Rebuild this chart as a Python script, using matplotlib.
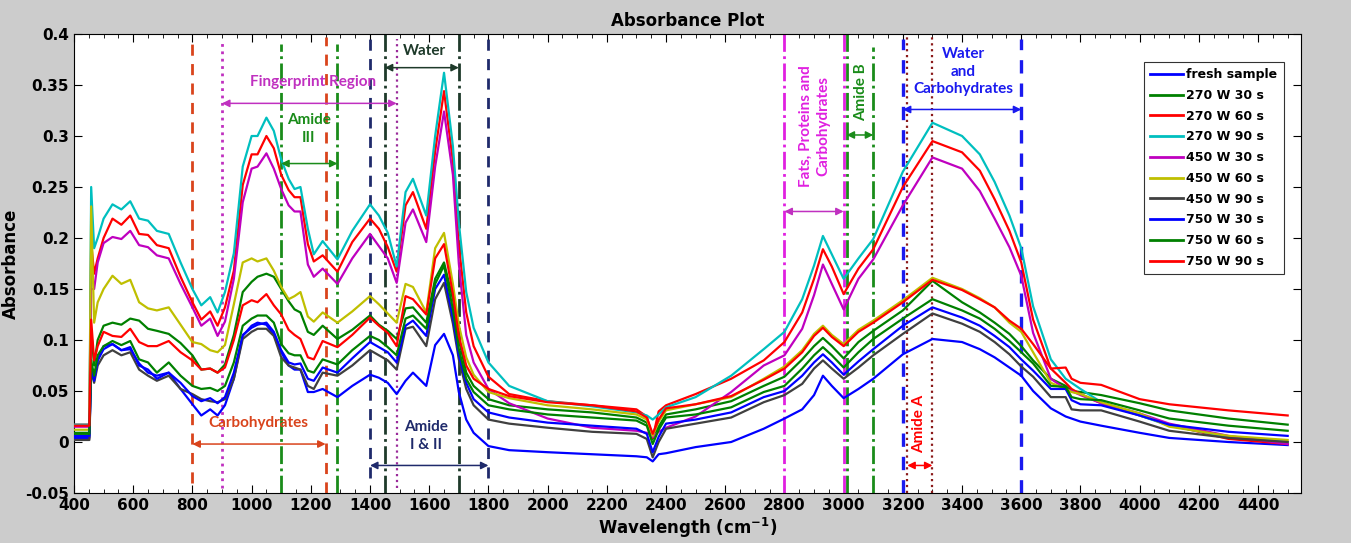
import numpy as np
import matplotlib
matplotlib.use('Agg')
import matplotlib.pyplot as plt
from matplotlib.ticker import MultipleLocator

# wavenumber grid (cm-1)
wn = [400, 452, 458, 468, 480,
      500, 530, 560, 590, 620,
      650, 680, 720, 760, 800,
      830, 860, 885, 910, 940,
      970, 1000, 1020, 1050, 1075,
      1100, 1125, 1145, 1165, 1190,
      1210, 1240, 1290, 1340, 1400,
      1430, 1460, 1490, 1520, 1545,
      1590, 1620, 1650, 1680, 1700,
      1725, 1750, 1800, 1870, 2000,
      2150, 2300, 2335, 2355, 2375,
      2400, 2500, 2620, 2730, 2800,
      2860, 2900, 2930, 2960, 3000,
      3050, 3100, 3200, 3300, 3400,
      3460, 3510, 3560, 3600, 3640,
      3700, 3750, 3770, 3800, 3870,
      4000, 4100, 4300, 4500]

fresh = [0.004, 0.004, 0.075, 0.062, 0.080,
         0.094, 0.096, 0.090, 0.091, 0.077,
         0.068, 0.065, 0.068, 0.052, 0.037,
         0.026, 0.032, 0.026, 0.036, 0.062,
         0.104, 0.114, 0.117, 0.115, 0.105,
         0.088, 0.075, 0.071, 0.071, 0.049,
         0.049, 0.052, 0.044, 0.055, 0.066,
         0.063, 0.058, 0.047, 0.060, 0.068,
         0.055, 0.095, 0.106, 0.085, 0.049,
         0.022, 0.009, -0.004, -0.008, -0.010,
         -0.012, -0.014, -0.015, -0.019, -0.012,
         -0.011, -0.005, 0.000, 0.013, 0.023,
         0.032, 0.046, 0.065, 0.055, 0.043,
         0.052, 0.062, 0.086, 0.101, 0.098,
         0.091, 0.083, 0.073, 0.065, 0.050,
         0.033, 0.025, 0.023, 0.020, 0.016,
         0.009, 0.004, 0.000, -0.003]

w270_30 = [0.009, 0.009, 0.110, 0.075, 0.100,
           0.114, 0.117, 0.115, 0.121, 0.119,
           0.111, 0.109, 0.106, 0.097, 0.085,
           0.071, 0.072, 0.068, 0.076, 0.105,
           0.147, 0.157, 0.162, 0.165, 0.162,
           0.150, 0.138, 0.130, 0.127, 0.108,
           0.105, 0.114, 0.101, 0.110, 0.124,
           0.115, 0.109, 0.101, 0.131, 0.132,
           0.117, 0.160, 0.176, 0.140, 0.101,
           0.068, 0.055, 0.042, 0.036, 0.032,
           0.029, 0.024, 0.019, 0.003, 0.015,
           0.027, 0.032, 0.040, 0.055, 0.064,
           0.081, 0.094, 0.102, 0.094, 0.082,
           0.098, 0.109, 0.129, 0.158, 0.137,
           0.127, 0.117, 0.106, 0.094, 0.080,
           0.062, 0.055, 0.050, 0.049, 0.046,
           0.038, 0.031, 0.023, 0.017]

w270_60 = [0.017, 0.017, 0.195, 0.165, 0.180,
           0.200, 0.219, 0.213, 0.222, 0.204,
           0.203, 0.193, 0.190, 0.162, 0.137,
           0.120, 0.128, 0.114, 0.132, 0.168,
           0.252, 0.282, 0.282, 0.300, 0.288,
           0.262, 0.247, 0.240, 0.240, 0.194,
           0.177, 0.183, 0.167, 0.196, 0.219,
           0.209, 0.191, 0.167, 0.232, 0.245,
           0.209, 0.285, 0.344, 0.275, 0.193,
           0.127, 0.094, 0.064, 0.047, 0.040,
           0.036, 0.032, 0.025, 0.004, 0.030,
           0.036, 0.047, 0.062, 0.080, 0.098,
           0.127, 0.160, 0.189, 0.172, 0.145,
           0.170, 0.189, 0.250, 0.295, 0.284,
           0.266, 0.238, 0.207, 0.176, 0.120,
           0.072, 0.058, 0.052, 0.047, 0.038,
           0.026, 0.017, 0.003, -0.002]

w270_90 = [0.017, 0.017, 0.250, 0.190, 0.200,
           0.219, 0.233, 0.228, 0.236, 0.219,
           0.217, 0.207, 0.204, 0.176, 0.150,
           0.134, 0.142, 0.127, 0.147, 0.185,
           0.270, 0.300, 0.300, 0.318, 0.305,
           0.277, 0.258, 0.248, 0.250, 0.209,
           0.184, 0.197, 0.179, 0.207, 0.233,
           0.222, 0.205, 0.172, 0.245, 0.258,
           0.222, 0.300, 0.362, 0.290, 0.215,
           0.147, 0.112, 0.078, 0.055, 0.040,
           0.035, 0.029, 0.026, 0.022, 0.027,
           0.034, 0.044, 0.065, 0.091, 0.108,
           0.140, 0.173, 0.202, 0.184, 0.160,
           0.180, 0.199, 0.265, 0.313, 0.300,
           0.282, 0.255, 0.222, 0.190, 0.133,
           0.081, 0.062, 0.058, 0.052, 0.039,
           0.026, 0.016, 0.005, 0.000]

w450_30 = [0.015, 0.015, 0.150, 0.150, 0.176,
           0.195, 0.201, 0.199, 0.207, 0.193,
           0.191, 0.183, 0.180, 0.155, 0.132,
           0.114, 0.121, 0.104, 0.118, 0.160,
           0.235, 0.268, 0.270, 0.283, 0.268,
           0.248, 0.232, 0.226, 0.226, 0.174,
           0.162, 0.170, 0.155, 0.180, 0.204,
           0.192, 0.180, 0.156, 0.215, 0.228,
           0.196, 0.270, 0.324, 0.262, 0.175,
           0.105, 0.078, 0.052, 0.038, 0.023,
           0.014, 0.011, 0.009, 0.005, 0.010,
           0.014, 0.025, 0.049, 0.075, 0.085,
           0.111, 0.144, 0.174, 0.155, 0.130,
           0.160, 0.179, 0.232, 0.279, 0.268,
           0.246, 0.219, 0.191, 0.163, 0.107,
           0.062, 0.052, 0.050, 0.046, 0.038,
           0.028, 0.018, 0.006, -0.002]

w450_60 = [0.012, 0.012, 0.231, 0.117, 0.137,
           0.150, 0.163, 0.155, 0.159, 0.137,
           0.131, 0.129, 0.132, 0.115, 0.098,
           0.096, 0.090, 0.088, 0.095, 0.135,
           0.176, 0.180, 0.177, 0.180, 0.168,
           0.152, 0.140, 0.143, 0.147, 0.123,
           0.118, 0.127, 0.117, 0.128, 0.143,
           0.135, 0.126, 0.117, 0.155, 0.152,
           0.127, 0.190, 0.205, 0.155, 0.115,
           0.083, 0.066, 0.049, 0.043, 0.036,
           0.032, 0.027, 0.022, 0.006, 0.020,
           0.031, 0.037, 0.044, 0.062, 0.074,
           0.090, 0.106, 0.114, 0.105, 0.096,
           0.110, 0.119, 0.139, 0.161, 0.150,
           0.141, 0.132, 0.117, 0.108, 0.088,
           0.058, 0.052, 0.049, 0.047, 0.039,
           0.028, 0.015, 0.006, 0.002]

w450_90 = [0.002, 0.002, 0.070, 0.058, 0.075,
           0.085, 0.090, 0.085, 0.088, 0.071,
           0.065, 0.060, 0.065, 0.052, 0.047,
           0.042, 0.040, 0.039, 0.042, 0.062,
           0.101, 0.108, 0.111, 0.111, 0.104,
           0.083, 0.075, 0.073, 0.071, 0.055,
           0.052, 0.068, 0.065, 0.075, 0.090,
           0.085, 0.080, 0.071, 0.111, 0.113,
           0.094, 0.140, 0.156, 0.116, 0.081,
           0.052, 0.036, 0.022, 0.018, 0.014,
           0.010, 0.008, 0.003, -0.015, 0.000,
           0.013, 0.018, 0.024, 0.039, 0.046,
           0.057, 0.072, 0.080, 0.072, 0.062,
           0.073, 0.085, 0.106, 0.126, 0.116,
           0.108, 0.098, 0.086, 0.074, 0.064,
           0.044, 0.044, 0.032, 0.031, 0.031,
           0.020, 0.011, 0.004, 0.000]

w750_30 = [0.006, 0.006, 0.075, 0.060, 0.080,
           0.091, 0.096, 0.090, 0.093, 0.075,
           0.071, 0.062, 0.068, 0.058, 0.045,
           0.040, 0.043, 0.038, 0.044, 0.068,
           0.105, 0.112, 0.115, 0.117, 0.108,
           0.090, 0.078, 0.076, 0.077, 0.062,
           0.060, 0.073, 0.068, 0.082, 0.098,
           0.093, 0.088, 0.078, 0.114, 0.119,
           0.104, 0.150, 0.164, 0.122, 0.085,
           0.058, 0.042, 0.029, 0.024, 0.019,
           0.016, 0.013, 0.008, -0.010, 0.005,
           0.018, 0.022, 0.029, 0.044, 0.050,
           0.065, 0.078, 0.086, 0.078, 0.066,
           0.079, 0.091, 0.114, 0.132, 0.122,
           0.114, 0.104, 0.093, 0.081, 0.070,
           0.052, 0.052, 0.041, 0.037, 0.036,
           0.026, 0.017, 0.010, 0.006]

w750_60 = [0.008, 0.008, 0.080, 0.065, 0.085,
           0.094, 0.099, 0.095, 0.099, 0.081,
           0.078, 0.068, 0.078, 0.065, 0.055,
           0.052, 0.053, 0.050, 0.055, 0.078,
           0.114, 0.121, 0.124, 0.124, 0.117,
           0.096, 0.087, 0.085, 0.085, 0.070,
           0.068, 0.081, 0.076, 0.090, 0.104,
           0.100, 0.093, 0.085, 0.121, 0.124,
           0.111, 0.155, 0.173, 0.130, 0.091,
           0.062, 0.049, 0.036, 0.032, 0.027,
           0.024, 0.021, 0.016, -0.002, 0.012,
           0.024, 0.027, 0.034, 0.049, 0.055,
           0.072, 0.085, 0.093, 0.085, 0.073,
           0.088, 0.101, 0.121, 0.140, 0.129,
           0.121, 0.111, 0.099, 0.088, 0.077,
           0.055, 0.054, 0.044, 0.042, 0.041,
           0.031, 0.023, 0.016, 0.011]

w750_90 = [0.016, 0.016, 0.120, 0.080, 0.094,
           0.108, 0.104, 0.103, 0.111, 0.098,
           0.094, 0.094, 0.099, 0.088, 0.080,
           0.071, 0.072, 0.068, 0.073, 0.100,
           0.134, 0.139, 0.137, 0.145, 0.134,
           0.125, 0.110, 0.105, 0.101, 0.083,
           0.081, 0.099, 0.093, 0.105, 0.122,
           0.114, 0.107, 0.094, 0.143, 0.140,
           0.125, 0.180, 0.194, 0.145, 0.104,
           0.075, 0.062, 0.052, 0.045, 0.039,
           0.036, 0.030, 0.024, 0.008, 0.022,
           0.033, 0.037, 0.045, 0.061, 0.072,
           0.088, 0.104, 0.112, 0.103, 0.094,
           0.108, 0.117, 0.137, 0.159, 0.149,
           0.140, 0.132, 0.119, 0.111, 0.096,
           0.072, 0.073, 0.062, 0.058, 0.056,
           0.042, 0.037, 0.031, 0.026]

labels = ['fresh sample', '270 W 30 s', '270 W 60 s', '270 W 90 s', '450 W 30 s',
          '450 W 60 s', '450 W 90 s', '750 W 30 s', '750 W 60 s', '750 W 90 s']
series = [fresh, w270_30, w270_60, w270_90, w450_30,
          w450_60, w450_90, w750_30, w750_60, w750_90]
colors = ['#0000ff', '#008000', '#ff0000', '#00bfbf', '#bf00bf',
          '#bfbf00', '#404040', '#0000ff', '#008000', '#ff0000']

plt.rcParams['font.family'] = ['DejaVu Sans']
fig = plt.figure(figsize=(13.51, 5.43), dpi=100, facecolor='#cccccc')
ax = fig.add_axes([74/1351, 50/543, 1227/1351, 459/543])

for s, c, l in zip(series, colors, labels):
    ax.plot(wn, s, color=c, lw=1.6, label=l, zorder=3)

ax.set_xlim(400, 4545)
ax.set_ylim(-0.05, 0.4)
ax.xaxis.set_major_locator(MultipleLocator(200))
ax.xaxis.set_minor_locator(MultipleLocator(50))
ax.yaxis.set_major_locator(MultipleLocator(0.05))
ax.tick_params(which='both', direction='in', top=True, right=True, labelsize=11)
ax.tick_params(which='major', length=6)
ax.tick_params(which='minor', length=3)
ax.set_xticks(np.arange(400, 4401, 200))
ax.set_yticks(np.arange(-0.05, 0.401, 0.05))
ax.set_yticklabels(['-0.05', '0', '0.05', '0.1', '0.15', '0.2', '0.25', '0.3', '0.35', '0.4'],
                   fontweight='bold')
ax.set_xticklabels([str(v) for v in range(400, 4401, 200)], fontweight='bold')

ax.set_title('Absorbance Plot', fontsize=12, fontweight='bold', pad=6)
ax.set_xlabel('Wavelength (cm$^{\\mathbf{-1}}$)', fontsize=12, fontweight='bold', labelpad=2)
ax.set_ylabel('Absorbance', fontsize=12, fontweight='bold', labelpad=4)

# band markers
def vline(x, c, ls, y0=-0.05, y1=0.4, lw=2.0):
    ax.plot([x, x], [y0, y1], color=c, ls=ls, lw=lw, zorder=2)

def arrow(x0, x1, y, c):
    ax.annotate('', xy=(x1, y), xytext=(x0, y),
                arrowprops=dict(arrowstyle='<|-|>', color=c, lw=1.1,
                                mutation_scale=11, shrinkA=0, shrinkB=0), zorder=4)

orange = '#d9441c'
mag = '#c030c0'
grn = '#1a8c1a'
navy = '#1f2a6b'
dkgrn = '#1e3a2a'
mag2 = '#e020e0'
blu = '#1a1aef'
dred = '#8b1a1a'

vline(800, orange, (0, (4, 3)), -0.04, 0.397)
vline(1250, orange, (0, (4, 3)), -0.05, 0.397)
vline(900, mag, ':', -0.045, 0.392)
vline(1490, '#9a2a9a', ':', -0.045, 0.395, lw=1.6)
vline(1100, grn, '-.', -0.05, 0.39)
vline(1290, grn, '-.', -0.05, 0.39)
vline(1400, navy, (0, (4, 3)), -0.035, 0.4)
vline(1800, navy, (0, (4, 3)), -0.035, 0.4)
vline(1450, dkgrn, '-.', -0.05, 0.4)
vline(1700, dkgrn, '-.', -0.05, 0.4)
vline(2800, mag2, '-.', -0.05, 0.4)
vline(3000, mag2, '-.', -0.05, 0.4)
vline(3010, grn, '-.', -0.05, 0.4)
vline(3100, grn, '-.', -0.05, 0.387)
vline(3200, blu, (0, (4, 3)), -0.05, 0.395, lw=2.4)
vline(3600, blu, (0, (4, 3)), -0.05, 0.395, lw=2.4)
vline(3215, dred, ':', -0.05, 0.4, lw=1.6)
vline(3300, dred, ':', -0.05, 0.4, lw=1.6)

arrow(900, 1490, 0.332, mag)
arrow(1450, 1700, 0.367, dkgrn)
arrow(1100, 1290, 0.273, grn)
arrow(800, 1250, -0.002, orange)
arrow(1400, 1800, -0.023, navy)
arrow(2800, 3000, 0.226, mag)
arrow(3010, 3100, 0.301, grn)
arrow(3200, 3600, 0.326, blu)
arrow(3215, 3300, -0.023, 'red')

tf = dict(fontfamily='Lato', fontweight='bold', fontsize=11, ha='center', va='center', zorder=5)
ax.text(1585, 0.383, 'Water', color=dkgrn, **tf)
ax.text(1207, 0.353, 'Fingerprint Region', color=mag, **tf)
ax.text(1193, 0.307, 'Amide\nIII', color=grn, linespacing=1.3, **tf)
ax.text(1024, 0.019, 'Carbohydrates', color=orange, **tf)
ax.text(1590, 0.006, 'Amide\nI & II', color=navy, linespacing=1.3, **tf)
ax.text(2903, 0.31, 'Fats, Proteins and\nCarbohydrates', color=mag2, rotation=90,
        linespacing=1.3, **tf)
ax.text(3060, 0.343, 'Amide B', color=grn, rotation=90, **tf)
ax.text(3404, 0.363, 'Water\nand\nCarbohydrates', color=blu, linespacing=1.3, **tf)
ax.text(3255, 0.018, 'Amide A', color='red', rotation=90, **tf)

leg = ax.legend(loc='upper right', bbox_to_anchor=(0.986, 0.939),
                prop={'weight': 'bold', 'size': 9}, frameon=True, fancybox=False,
                edgecolor='black', handlelength=2.6, handletextpad=0.3,
                labelspacing=0.62, borderpad=0.5, borderaxespad=0)
leg.get_frame().set_linewidth(0.8)
for h in leg.get_lines():
    h.set_linewidth(2)

fig.savefig('out.png', dpi=100, facecolor=fig.get_facecolor())
